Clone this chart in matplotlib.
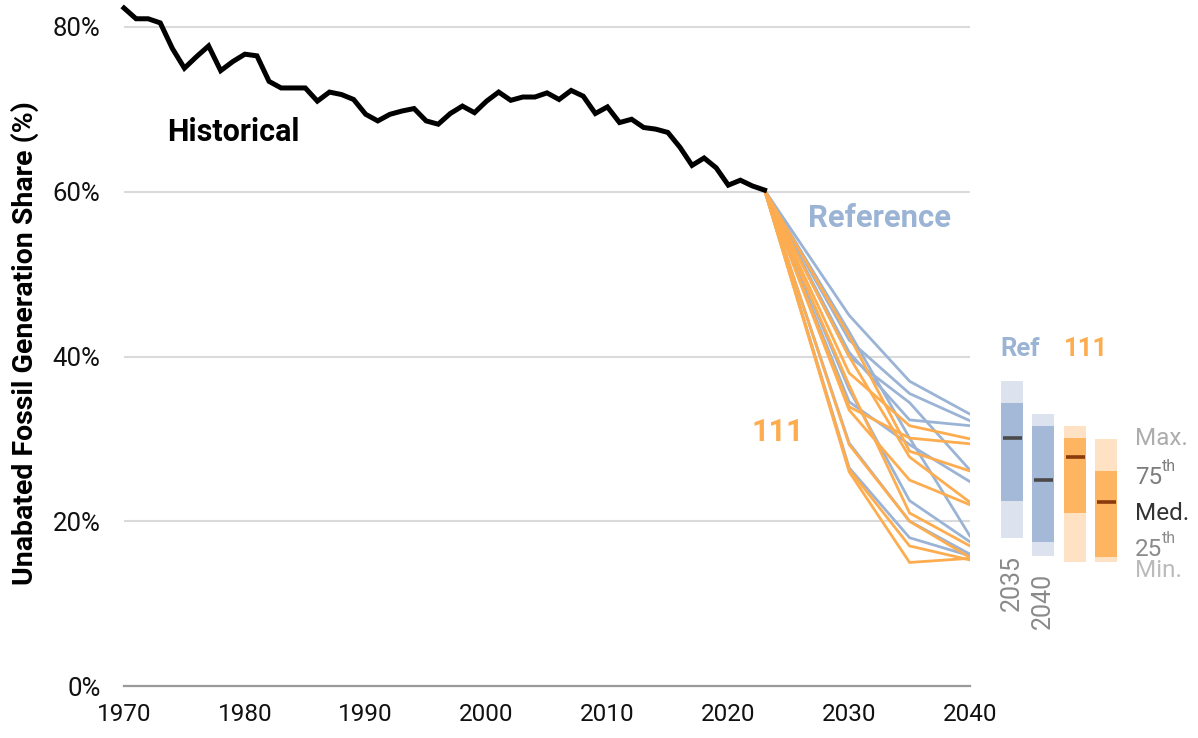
import matplotlib
matplotlib.use("Agg")
import matplotlib.pyplot as plt
from matplotlib.patches import Rectangle
import numpy as np

plt.rcParams['font.family'] = ['Roboto', 'DejaVu Sans']

# ---------------- data ----------------
hist_years = list(range(1970, 2024))
hist_values = [82.3, 81.0, 81.0, 80.5, 77.4, 75.0, 76.4, 77.7, 74.7, 75.8,
               76.7, 76.5, 73.4, 72.6, 72.6, 72.6, 71.0, 72.1, 71.8, 71.2,
               69.4, 68.6, 69.4, 69.8, 70.1, 68.6, 68.2, 69.5, 70.4, 69.6,
               71.0, 72.1, 71.1, 71.5, 71.5, 72.0, 71.2, 72.3, 71.6, 69.5,
               70.3, 68.4, 68.8, 67.8, 67.6, 67.2, 65.4, 63.2, 64.1, 62.9,
               60.8, 61.4, 60.7, 60.2]

scen_years = [2023, 2030, 2035, 2040]
ref_lines = [
    [60.2, 45.0, 37.0, 33.0],
    [60.2, 42.0, 35.5, 32.2],
    [60.2, 40.5, 32.3, 31.6],
    [60.2, 40.0, 34.4, 26.2],
    [60.2, 34.5, 29.3, 24.8],
    [60.2, 43.0, 30.1, 18.2],
    [60.2, 36.0, 22.5, 17.5],
    [60.2, 29.5, 20.0, 16.0],
    [60.2, 26.5, 18.0, 15.8],
]
s111_lines = [
    [60.2, 38.0, 31.6, 30.0],
    [60.2, 33.9, 30.1, 29.4],
    [60.2, 42.5, 28.5, 26.1],
    [60.2, 40.0, 27.8, 22.3],
    [60.2, 33.5, 25.0, 22.0],
    [60.2, 36.5, 21.0, 17.0],
    [60.2, 29.3, 20.0, 15.6],
    [60.2, 26.3, 17.0, 15.3],
    [60.2, 26.0, 15.0, 15.5],
]

# box stats: min, q1, median, q3, max
box_labels = ["2035", "2040"]
box_ref_2035 = [18.0, 22.5, 30.1, 34.4, 37.0]
box_ref_2040 = [15.8, 17.5, 25.0, 31.6, 33.0]
box_111_2035 = [15.0, 21.0, 27.8, 30.1, 31.6]
box_111_2040 = [15.0, 15.6, 22.3, 26.1, 30.0]

x_ticks = [1970, 1980, 1990, 2000, 2010, 2020, 2030, 2040]
y_ticks = [0, 20, 40, 60, 80]
y_ticklabels = ["0%", "20%", "40%", "60%", "80%"]

# ---------------- style ----------------
BLUE = "#9bb4d5"
BLUE_DARK = "#a3b9d7"
BLUE_LIGHT = "#dce3ee"
ORANGE = "#fdad4f"
ORANGE_DARK = "#fdb562"
ORANGE_LIGHT = "#fee2c3"

W, H = 1198, 738
fig = plt.figure(figsize=(W / 100, H / 100), dpi=100)
ymax = 686 / ((686 - 27) / 80)
ax = fig.add_axes([124 / W, (738 - 686) / H, (970 - 124) / W, 686 / H])
ax.set_xlim(1970, 2040)
ax.set_ylim(0, ymax)

for yt in [20, 40, 60, 80]:
    ax.axhline(yt, color="#dadada", lw=1.5, zorder=0)
ax.axhline(0, color="#9a9a9a", lw=1.6, zorder=1, clip_on=False)

for s in ax.spines.values():
    s.set_visible(False)
ax.tick_params(length=0)
ax.set_xticks(x_ticks)
ax.set_xticklabels([str(x) for x in x_ticks], fontsize=17.5, color="#111111")
ax.tick_params(axis='x', pad=12)
ax.set_yticks(y_ticks)
ax.set_yticklabels(y_ticklabels, fontsize=18.5, color="#111111")
ax.tick_params(axis='y', pad=17)
ax.set_ylabel("Unabated Fossil Generation Share (%)", fontsize=20.5,
              fontweight="bold", labelpad=10)

for ln in ref_lines:
    ax.plot(scen_years, ln, color=BLUE, lw=2.0, zorder=2, solid_joinstyle="miter")
for ln in s111_lines:
    ax.plot(scen_years, ln, color=ORANGE, lw=2.0, zorder=3, solid_joinstyle="miter")
ax.plot(hist_years, hist_values, color="black", lw=3.6, zorder=4, clip_on=False,
        solid_joinstyle="miter")

ax.text(1973.6, 67.2, "Historical", fontsize=22, fontweight="bold", color="black",
        va="center", ha="left")
ax.text(2026.6, 56.8, "Reference", fontsize=22.3, fontweight="bold", color=BLUE,
        va="center", ha="left")
ax.text(2021.9, 30.8, "111", fontsize=22, fontweight="bold", color=ORANGE,
        va="center", ha="left")

# ---------------- box panel ----------------
bx = fig.add_axes([990 / W, (738 - 686) / H, 208 / W, 686 / H])
bx.set_xlim(0, 208)
bx.set_ylim(0, ymax)
bx.axis("off")

bw = 22
boxes = [(22, box_ref_2035, BLUE_LIGHT, BLUE_DARK, "#4a4a4a"),
         (53, box_ref_2040, BLUE_LIGHT, BLUE_DARK, "#4a4a4a"),
         (85, box_111_2035, ORANGE_LIGHT, ORANGE_DARK, "#8a3a0c"),
         (116, box_111_2040, ORANGE_LIGHT, ORANGE_DARK, "#8a3a0c")]
for cx, st, lc, dc, mc in boxes:
    mn, q1, md, q3, mx = st
    bx.add_patch(Rectangle((cx - bw / 2, mn), bw, mx - mn, color=lc, lw=0))
    bx.add_patch(Rectangle((cx - bw / 2, q1), bw, q3 - q1, color=dc, lw=0))
    bx.plot([cx - 9.5, cx + 9.5], [md, md], color=mc, lw=2.6, solid_capstyle="butt")

bx.text(30, 40.9, "Ref", fontsize=18.5, fontweight="bold", color=BLUE, ha="center", va="center")
bx.text(96, 40.9, "111", fontsize=18.5, fontweight="bold", color=ORANGE, ha="center", va="center")

bx.text(22, box_ref_2035[0] - 2.1, box_labels[0], rotation=90, fontsize=18, color="#8a8a8a",
        ha="center", va="top")
bx.text(53, box_ref_2040[0] - 2.1, box_labels[1], rotation=90, fontsize=18, color="#8a8a8a",
        ha="center", va="top")

lx = 145
bx.text(lx, 30.0, "Max.", fontsize=17.5, color="#adadad", va="center", ha="left")
bx.text(lx, 25.3, "75", fontsize=17.5, color="#7d7d7d", va="center", ha="left")
bx.text(lx + 27, 26.6, "th", fontsize=11.5, color="#7d7d7d", va="center", ha="left")
bx.text(lx, 21.0, "Med.", fontsize=17.5, color="#333333", va="center", ha="left")
bx.text(lx, 16.6, "25", fontsize=17.5, color="#8a8a8a", va="center", ha="left")
bx.text(lx + 27, 17.9, "th", fontsize=11.5, color="#8a8a8a", va="center", ha="left")
bx.text(lx, 14.0, "Min.", fontsize=17.5, color="#bbbbbb", va="center", ha="left")

fig.savefig("out.png", dpi=100)
